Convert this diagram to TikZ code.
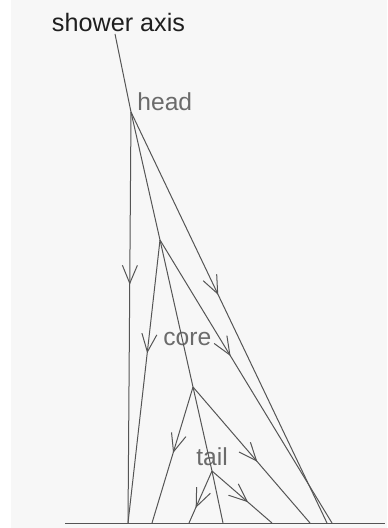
\documentclass[tikz,border=0pt]{standalone}
\usepackage{fontspec}
\setmainfont{Liberation Sans}
\usepackage{tikz}
\usetikzlibrary{arrows.meta, decorations.markings}

\definecolor{bggray}{HTML}{F7F7F7}
\definecolor{linegray}{HTML}{555555}
\definecolor{labelgray}{HTML}{6B6B6B}

\tikzset{
  track/.style={draw=linegray, line width=0.5pt},
  midarrow/.style={postaction={decorate}, decoration={markings,
      mark=at position #1 with {\arrow{Straight Barb[length=9pt, width=7.5pt]}}}},
  label/.style={text=labelgray, inner sep=0pt, anchor=base west, font=\fontsize{12.3}{15}\selectfont},
}

\begin{document}
\begin{tikzpicture}[x=0.5pt, y=-0.5pt]
        % Background
        \useasboundingbox (0, 0) rectangle (387, 528);
        \fill[white] (0, 0) rectangle (11, 528);
        \fill[bggray] (11, 0) rectangle (387, 528);

        % Nodes
        \node[inner sep=0pt, anchor=base, text=black!88, font=\fontsize{12.6}{15}\selectfont] (axis) at (118.5, 32) {shower axis};
        \coordinate (top) at (115, 34);
        \coordinate (H)  at (131, 112);
        \coordinate (B1) at (160, 240);
        \coordinate (B2) at (193, 387);
        \coordinate (B3) at (212, 471);
        \node[label] (head) at (137, 111) {head};
        \node[label] (core) at (163, 345) {core};
        \node[label] (tail) at (196, 465) {tail};

        % Ground
        \coordinate (gL) at (65, 523);
        \coordinate (gR) at (385, 523);
        \coordinate (g1) at (128, 523);
        \coordinate (g2) at (152, 523);
        \coordinate (g3) at (189, 523);
        \coordinate (g4) at (223, 523);
        \coordinate (g5) at (272, 523);
        \coordinate (g6) at (310, 523);
        \coordinate (g7) at (327, 523);
        \coordinate (g8) at (332, 523);
        \draw[track] (gL) -- (gR);

        % Edges
        \draw[track] (top) -- (H);
        \draw[track, midarrow=0.42] (H) -- (g1);
        \draw[track, midarrow=0.445] (H) -- (g7);
        \draw[track] (H) -- (B1);
        \draw[track, midarrow=0.40] (B1) -- (g1);
        \draw[track, midarrow=0.41] (B1) -- (g8);
        \draw[track] (B1) -- (B2);
        \draw[track, midarrow=0.485] (B2) -- (g2);
        \draw[track, midarrow=0.55] (B2) -- (g6);
        \draw[track] (B2) -- (B3);
        \draw[track, midarrow=0.71] (B3) -- (g3);
        \draw[track] (B3) -- (g4);
        \draw[track, midarrow=0.60] (B3) -- (g5);
      \end{tikzpicture}
\end{document}
